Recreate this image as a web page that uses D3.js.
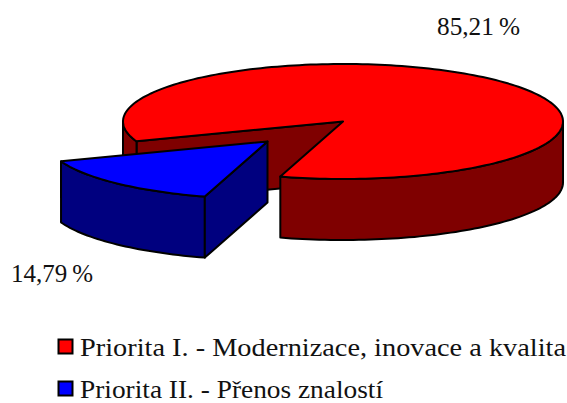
<!DOCTYPE html>
<html><head><meta charset="utf-8">
<script src="https://cdn.jsdelivr.net/npm/d3@7"></script>
<style>html,body{margin:0;padding:0;background:#fff}svg{display:block}text{font-family:"Liberation Serif",serif;fill:#111}</style>
</head><body><div id="c"></div>
<script>
const categories = ["Priorita I. - Modernizace, inovace a kvalita", "Priorita II. - Přenos znalostí"];
const values = [85.21, 14.79];
const topColors = ["#ff0000", "#0000ff"];
const sideColors = ["#7f0000", "#00007f"];
const W = 567, H = 403, cx = 343, cy = 121.5, rx = 220, ry = 57.5, depth = 61;
const explode = [[0, 0], [-75.5, 20]];
const labelPos = [[437, 35, 83], [11, 282, 82]];
const legendY = [356, 398];
const legendW = [486, 303];
const deg = Math.PI / 180;
const svg = d3.select("#c").append("svg").attr("width", W).attr("height", H);
const arcs = d3.pie().sort(null).value(d => d)
  .startAngle(249.8 * deg).endAngle((249.8 + 360) * deg)(values);
const sx = d3.scaleLinear().domain([-1, 1]).range([cx - rx, cx + rx]);
const sy = d3.scaleLinear().domain([-1, 1]).range([cy - ry, cy + ry]);
const pt = (a, i, dz = 0) => [sx(Math.sin(a)) + explode[i][0], sy(-Math.cos(a)) + explode[i][1] + dz];
const ctr = (i, dz = 0) => [sx(0) + explode[i][0], sy(0) + explode[i][1] + dz];
const samples = (a0, a1) => {
  const n = Math.max(2, Math.ceil(Math.abs(a1 - a0) / (1.5 * deg)));
  return d3.range(n + 1).map(k => a0 + (a1 - a0) * k / n);
};
const poly = (pts, fill) => svg.append("path").attr("d", d3.line()(pts) + "Z")
  .attr("fill", fill).attr("stroke", "#000").attr("stroke-width", 2).attr("stroke-linejoin", "round");
arcs.forEach((s, i) => {
  const a0 = s.startAngle, a1 = s.endAngle;
  const inner = a => [pt(a, i), ctr(i), ctr(i, depth), pt(a, i, depth)];
  if (i === 0) poly(inner(a0), sideColors[i]);
  for (const k of [0, 1]) {
    const lo = Math.max(a0, (90 + 360 * k) * deg), hi = Math.min(a1, (270 + 360 * k) * deg);
    if (hi > lo) {
      const as = samples(lo, hi);
      poly([...as.map(a => pt(a, i)), ...as.slice().reverse().map(a => pt(a, i, depth))], sideColors[i]);
    }
  }
  if (i === 1) poly(inner(a0), sideColors[i]);
  poly([ctr(i), ...samples(a0, a1).map(a => pt(a, i))], topColors[i]);
});
const fmt = v => v.toFixed(2).replace(".", ",") + "\u2009%";
values.forEach((v, i) => {
  svg.append("text").attr("x", labelPos[i][0]).attr("y", labelPos[i][1]).attr("font-size", 25)
    .attr("textLength", labelPos[i][2]).attr("lengthAdjust", "spacingAndGlyphs").text(fmt(v));
});
categories.forEach((c, i) => {
  svg.append("rect").attr("x", 58.5).attr("y", legendY[i] - 16.5).attr("width", 14).attr("height", 14)
    .attr("fill", topColors[i]).attr("stroke", "#000").attr("stroke-width", 2);
  svg.append("text").attr("x", 80).attr("y", legendY[i]).attr("font-size", 25)
    .attr("textLength", legendW[i]).attr("lengthAdjust", "spacingAndGlyphs").text(c);
});
</script></body></html>
